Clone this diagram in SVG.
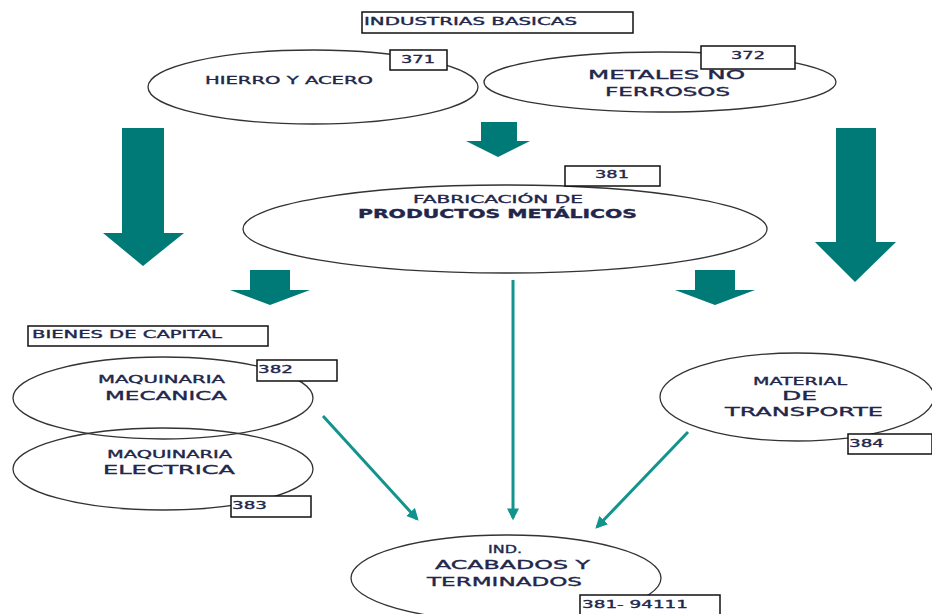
<svg xmlns="http://www.w3.org/2000/svg" width="932" height="614" viewBox="0 0 932 614">
<defs>
<style>
.e{fill:none;stroke:#333;stroke-width:1.3}
.b{fill:#fff;stroke:#111;stroke-width:1.5}
.t{font-family:"DejaVu Sans",Verdana,sans-serif;fill:#22264a;stroke:#22264a;stroke-width:0.35}
.s{font-size:11px}
.m{font-size:12.5px}
.bl{fill:#007a76}
.ln{stroke:#12948c;stroke-width:3;fill:none}
</style>
<marker id="ah" viewBox="0 0 10 10" refX="8" refY="5" markerWidth="4" markerHeight="4" orient="auto"><path d="M0,0 L10,5 L0,10 z" fill="#12948c"/></marker>
</defs>
<rect width="932" height="614" fill="#fff"/>

<g id="industrias">
<rect class="b" x="362" y="12" width="271" height="21"/>
<text class="t s" x="364" y="25" textLength="213" lengthAdjust="spacingAndGlyphs">INDUSTRIAS  BASICAS</text>
</g>

<g id="hierro">
<ellipse class="e" cx="313" cy="87" rx="165" ry="37"/>
<text class="t s" x="205" y="84" textLength="168" lengthAdjust="spacingAndGlyphs">HIERRO Y ACERO</text>
</g>
<g id="metales">
<ellipse class="e" cx="660" cy="82" rx="176" ry="30"/>
<text class="t m" x="588" y="79" textLength="157" lengthAdjust="spacingAndGlyphs">METALES NO</text>
<text class="t m" x="605" y="96" textLength="125" lengthAdjust="spacingAndGlyphs">FERROSOS</text>
</g>
<g id="c371"><rect class="b" x="390" y="50" width="57" height="20"/><text class="t s" x="401" y="63" textLength="34" lengthAdjust="spacingAndGlyphs">371</text></g>
<g id="c372"><rect class="b" x="701" y="46" width="94" height="23"/><text class="t s" x="731" y="59" textLength="34" lengthAdjust="spacingAndGlyphs">372</text></g>

<g id="arrows">
<path class="bl" d="M122,128 H164 V233 H184 L143,266 L103,233 H122 Z"/>
<path class="bl" d="M836,128 H876 V242 H896 L855,282 L815,242 H836 Z"/>
<path class="bl" d="M481,122 H517 V141 H530 L498,157 L466,141 H481 Z"/>
<path class="bl" d="M250,270 H290 V290 H310 L270,305 L230,290 H250 Z"/>
<path class="bl" d="M695,270 H735 V290 H755 L715,305 L675,290 H695 Z"/>
</g>

<g id="fabricacion">
<ellipse class="e" cx="505" cy="229" rx="262" ry="44"/>
<text class="t s" x="413" y="203" textLength="170" lengthAdjust="spacingAndGlyphs">FABRICACIÓN  DE</text>
<text class="t" x="358" y="218" font-size="12" font-weight="bold" textLength="279" lengthAdjust="spacingAndGlyphs">PRODUCTOS METÁLICOS</text>
</g>
<g id="c381"><rect class="b" x="565" y="166" width="95" height="20"/><text class="t s" x="595" y="178" textLength="34" lengthAdjust="spacingAndGlyphs">381</text></g>

<g id="bienes">
<rect class="b" x="28" y="326" width="240" height="20"/>
<text class="t s" x="32" y="338" textLength="190" lengthAdjust="spacingAndGlyphs">BIENES  DE CAPITAL</text>
</g>

<g id="connectors">
<line class="ln" x1="513" y1="280" x2="513" y2="518" marker-end="url(#ah)"/>
<line class="ln" x1="323" y1="416" x2="417" y2="519" marker-end="url(#ah)"/>
<line class="ln" x1="688" y1="432" x2="597" y2="527" marker-end="url(#ah)"/>
</g>

<g id="electrica">
<ellipse class="e" cx="163" cy="469" rx="150" ry="41"/>
<text class="t s" x="107" y="458" textLength="125" lengthAdjust="spacingAndGlyphs">MAQUINARIA</text>
<text class="t m" x="103" y="474" textLength="132" lengthAdjust="spacingAndGlyphs">ELECTRICA</text>
</g>
<g id="mecanica">
<ellipse class="e" cx="163" cy="398" rx="150" ry="41"/>
<text class="t s" x="98" y="383" textLength="127" lengthAdjust="spacingAndGlyphs">MAQUINARIA</text>
<text class="t m" x="105" y="400" textLength="122" lengthAdjust="spacingAndGlyphs">MECANICA</text>
</g>
<g id="c382"><rect class="b" x="257" y="360" width="80" height="21"/><text class="t s" x="258" y="373" textLength="35" lengthAdjust="spacingAndGlyphs">382</text></g>
<g id="c383"><rect class="b" x="231" y="496" width="80" height="21"/><text class="t s" x="232" y="509" textLength="35" lengthAdjust="spacingAndGlyphs">383</text></g>

<g id="transporte">
<ellipse class="e" cx="797" cy="397" rx="137" ry="44"/>
<text class="t s" x="753" y="385" textLength="94" lengthAdjust="spacingAndGlyphs">MATERIAL</text>
<text class="t m" x="782" y="400" textLength="35" lengthAdjust="spacingAndGlyphs">DE</text>
<text class="t m" x="725" y="416" textLength="158" lengthAdjust="spacingAndGlyphs">TRANSPORTE</text>
</g>
<g id="c384"><rect class="b" x="848" y="434" width="84" height="20"/><text class="t s" x="849" y="447" textLength="35" lengthAdjust="spacingAndGlyphs">384</text></g>

<g id="acabados">
<ellipse class="e" cx="506" cy="578" rx="155" ry="43"/>
<text class="t s" x="488" y="553" textLength="34" lengthAdjust="spacingAndGlyphs">IND.</text>
<text class="t m" x="435" y="569" textLength="155" lengthAdjust="spacingAndGlyphs">ACABADOS Y</text>
<text class="t m" x="427" y="586" textLength="155" lengthAdjust="spacingAndGlyphs">TERMINADOS</text>
</g>
<g id="c94111"><rect class="b" x="580" y="595" width="140" height="22"/><text class="t s" x="582" y="608" textLength="106" lengthAdjust="spacingAndGlyphs">381- 94111</text></g>
</svg>
